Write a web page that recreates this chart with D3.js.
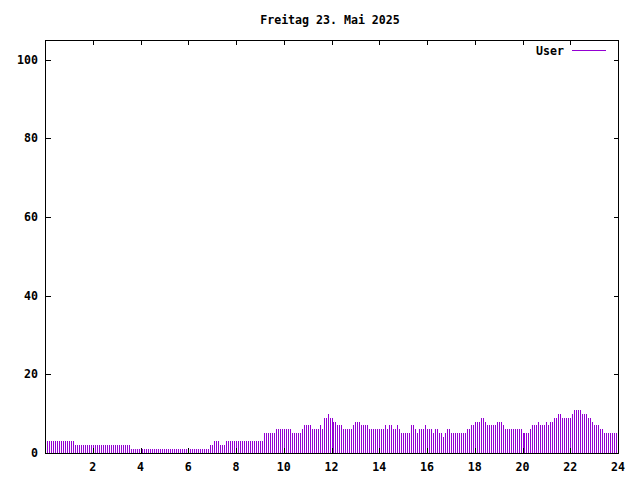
<!DOCTYPE html>
<html><head><meta charset="utf-8">
<script src="https://cdn.jsdelivr.net/npm/d3@7"></script>
<style>html,body{margin:0;padding:0;background:#fff}svg{display:block}text{font-family:"DejaVu Sans Mono","Liberation Mono",monospace;font-weight:bold;font-size:11.6px;fill:#000}</style>
</head><body>
<svg id="c" width="640" height="480"></svg>
<script>
const title = "Freitag 23. Mai 2025";
const seriesName = "User";
const xTicks = [2,4,6,8,10,12,14,16,18,20,22,24];
const yTicks = [0,20,40,60,80,100];
// one value every 5 minutes, 00:00 .. 23:55
const userValues = [
3,3,3,3,3,3,3,3,3,3,3,3,3,3,3,
2,2,2,2,2,2,2,2,2,2,2,2,2,2,2,2,2,2,2,2,2,2,2,2,2,2,2,2,
1,1,1,1,1,1,1,1,1,1,1,1,1,1,1,1,1,1,1,1,1,1,1,1,1,1,1,1,1,1,1,1,1,1,1,1,1,1,1,1,
2,2,3,3,3,2,2,2,
3,3,3,3,3,3,3,3,3,3,3,3,3,3,3,3,3,3,3,
5,5,5,5,5,5,
6,6,6,6,6,6,6,6,
5,5,5,5,5,
6,
7,7,7,7,
6,6,6,6,
7,6,
9,9,10,9,9,8,8,7,7,7,
6,6,6,6,6,
7,8,8,8,7,7,7,7,
6,6,6,6,6,6,6,6,
7,6,7,7,6,6,7,6,
5,5,5,5,5,
7,7,6,5,6,6,6,7,6,6,6,5,6,6,5,5,4,5,6,6,
5,5,5,5,5,5,5,5,
6,6,7,7,8,8,8,9,9,8,
7,7,7,7,7,
8,8,8,7,
6,6,6,6,6,6,6,6,6,
5,5,5,5,
6,7,7,7,8,7,7,7,8,7,8,8,9,9,10,10,
9,9,9,9,9,10,11,11,11,11,10,10,10,9,9,8,7,7,7,6,6,
5,5,5,5,5,5,5
];
const yMax = 105;

const svg = d3.select("#c");
const L = 45.5, R = 618.5, T = 40, B = 453;
const x = d3.scaleLinear().domain([0,24]).range([L,R]);
const y = d3.scaleLinear().domain([0,yMax]).range([B,T]);

svg.append("rect").attr("width",640).attr("height",480).attr("fill","#fff");

// bars (impulses)
const times = userValues.map((v,i)=>i*5/60);
const px = t => Math.floor(x(t)+1e-6)+0.5;
svg.append("g").selectAll("line").data(userValues).join("line")
  .attr("x1",(d,i)=>px(times[i]))
  .attr("x2",(d,i)=>px(times[i]))
  .attr("y1",y(0))
  .attr("y2",d=>Math.round(y(d)))
  .attr("stroke","#9400d3").attr("stroke-width",1)
  .attr("shape-rendering","crispEdges");

// border
const g = svg.append("g").attr("shape-rendering","crispEdges");
const xl = Math.floor(L)+0.5, xr = Math.floor(R)+0.5;
g.append("rect").attr("x",xl).attr("y",T+0.5)
  .attr("width",xr-xl).attr("height",B-T)
  .attr("fill","none").attr("stroke","#000");

const tl = 5;
xTicks.forEach(t=>{
  const xp = px(t);
  g.append("line").attr("x1",xp).attr("x2",xp).attr("y1",B).attr("y2",B-tl).attr("stroke","#000");
  g.append("line").attr("x1",xp).attr("x2",xp).attr("y1",T).attr("y2",T+tl).attr("stroke","#000");
  svg.append("text").attr("x",x(t)-0.5).attr("y",B+18).attr("text-anchor","middle").text(t);
});
yTicks.forEach(t=>{
  const yp = Math.round(y(t))+0.5;
  g.append("line").attr("x1",xl).attr("x2",xl+tl).attr("y1",yp).attr("y2",yp).attr("stroke","#000");
  g.append("line").attr("x1",xr).attr("x2",xr-tl).attr("y1",yp).attr("y2",yp).attr("stroke","#000");
  svg.append("text").attr("x",38).attr("y",y(t)+4).attr("text-anchor","end").text(t);
});

svg.append("text").attr("x",330).attr("y",24).attr("text-anchor","middle").text(title);

// legend
svg.append("text").attr("x",564).attr("y",55).attr("text-anchor","end").text(seriesName);
svg.append("line").attr("x1",572).attr("x2",606).attr("y1",50.5).attr("y2",50.5)
  .attr("stroke","#9400d3").attr("stroke-width",1).attr("shape-rendering","crispEdges");
</script>
</body></html>
